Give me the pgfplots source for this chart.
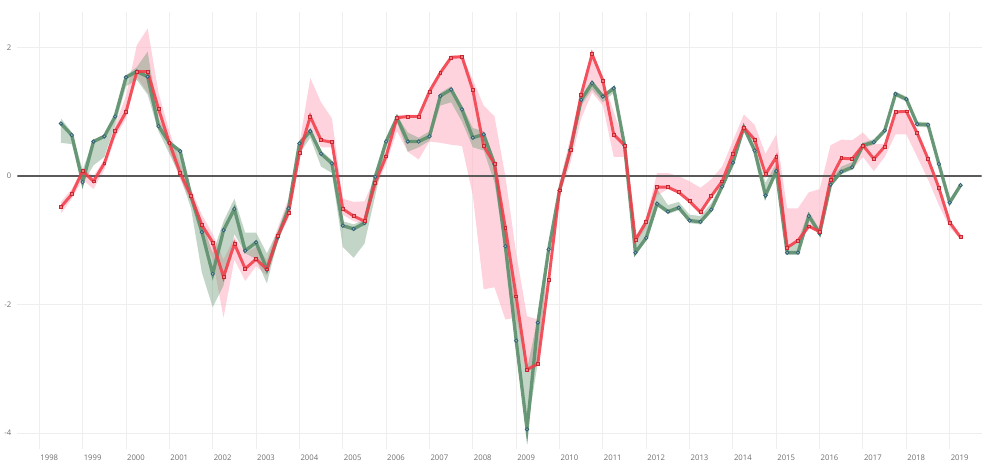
\documentclass[border=0pt]{standalone}
\usepackage{fontspec}
\setmainfont{Open Sans}
\usepackage{pgfplots}
\pgfplotsset{compat=1.18}
\usepackage{pgfplotstable}
\usepgfplotslibrary{fillbetween}
\definecolor{gline}{RGB}{92,143,108}
\definecolor{gband}{RGB}{110,155,120}
\definecolor{gmark}{RGB}{50,95,120}
\definecolor{rline}{RGB}{242,62,74}
\definecolor{rmark}{RGB}{200,40,50}
\definecolor{pband}{RGB}{255,182,198}
\definecolor{gridc}{RGB}{238,238,238}
\definecolor{zeroc}{RGB}{90,90,90}
\definecolor{labc}{RGB}{110,110,110}
\pgfplotstableread{
x g gl gu r rl ru
1998.50 0.82 0.52 0.90 -0.48 -0.58 -0.40
1998.75 0.64 0.50 0.68 -0.28 -0.35 -0.20
1999.00 -0.09 -0.12 0.10 0.08 -0.05 0.12
1999.25 0.54 0.17 0.57 -0.08 -0.20 0.00
1999.50 0.62 0.30 0.65 0.20 0.10 0.26
1999.75 0.93 0.80 0.96 0.70 0.60 0.80
2000.00 1.54 1.40 1.57 1.00 0.90 1.25
2000.25 1.63 1.50 1.70 1.63 1.55 2.04
2000.50 1.55 1.27 1.94 1.63 1.30 2.30
2000.75 0.78 0.70 0.90 1.05 0.90 1.30
2001.00 0.52 0.35 0.56 0.52 0.40 0.70
2001.25 0.39 0.00 0.42 0.05 -0.05 0.20
2001.50 -0.31 -0.50 -0.25 -0.31 -0.40 -0.20
2001.75 -0.87 -1.50 -0.70 -0.76 -0.90 -0.60
2002.00 -1.52 -2.04 -1.20 -1.03 -1.30 -0.90
2002.25 -0.84 -1.70 -0.70 -1.57 -2.20 -1.30
2002.50 -0.51 -0.90 -0.35 -1.05 -1.30 -0.95
2002.75 -1.16 -1.20 -0.88 -1.44 -1.63 -1.20
2003.00 -1.03 -1.29 -0.88 -1.29 -1.40 -1.10
2003.25 -1.45 -1.67 -1.20 -1.45 -1.55 -1.30
2003.50 -0.95 -1.00 -0.85 -0.93 -1.00 -0.80
2003.75 -0.50 -0.60 -0.40 -0.57 -0.65 -0.35
2004.00 0.51 0.35 0.55 0.36 0.30 0.50
2004.25 0.70 0.60 0.75 0.93 0.75 1.53
2004.50 0.35 0.15 0.40 0.56 0.45 1.15
2004.75 0.20 0.05 0.25 0.53 0.45 0.90
2005.00 -0.77 -1.10 -0.70 -0.51 -0.60 -0.35
2005.25 -0.82 -1.27 -0.75 -0.62 -0.70 -0.40
2005.50 -0.73 -1.05 -0.68 -0.70 -0.75 -0.39
2005.75 -0.01 -0.30 0.02 -0.10 -0.20 0.00
2006.00 0.54 0.45 0.58 0.31 0.20 0.40
2006.25 0.91 0.85 0.94 0.91 0.70 0.95
2006.50 0.54 0.38 0.68 0.93 0.38 0.96
2006.75 0.54 0.45 0.60 0.93 0.26 0.96
2007.00 0.62 0.55 0.70 1.32 0.54 1.35
2007.25 1.25 1.10 1.30 1.61 0.52 1.64
2007.50 1.35 1.15 1.40 1.85 0.49 1.88
2007.75 1.04 0.85 1.10 1.86 0.47 1.89
2008.00 0.60 0.45 0.75 1.34 -0.30 1.50
2008.25 0.65 0.40 0.70 0.47 -1.76 1.10
2008.50 0.19 -0.10 0.25 0.19 -1.73 0.93
2008.75 -1.09 -1.15 -0.80 -0.80 -2.23 0.00
2009.00 -2.56 -2.60 -1.90 -1.87 -2.20 -1.20
2009.25 -3.94 -3.95 -3.00 -3.01 -3.05 -2.18
2009.50 -2.28 -2.90 -2.20 -2.92 -2.95 -2.23
2009.75 -1.14 -1.20 -1.10 -1.62 -1.70 -1.50
2010.00 -0.22 -0.26 -0.18 -0.22 -0.30 -0.10
2010.25 0.41 0.37 0.45 0.41 0.20 0.60
2010.50 1.19 1.10 1.23 1.27 0.90 1.35
2010.75 1.45 1.35 1.50 1.90 1.30 1.95
2011.00 1.24 1.15 1.28 1.49 1.10 1.52
2011.25 1.37 1.30 1.40 0.65 0.30 1.00
2011.50 0.48 0.44 0.52 0.48 0.30 0.52
2011.75 -1.19 -1.22 -0.95 -0.99 -1.05 -0.95
2012.00 -0.96 -1.00 -0.72 -0.71 -0.80 -0.65
2012.25 -0.43 -0.47 -0.20 -0.17 -0.30 0.05
2012.50 -0.55 -0.59 -0.45 -0.17 -0.20 0.05
2012.75 -0.49 -0.53 -0.40 -0.25 -0.28 0.00
2013.00 -0.69 -0.73 -0.60 -0.39 -0.42 -0.08
2013.25 -0.71 -0.75 -0.62 -0.56 -0.58 -0.18
2013.50 -0.52 -0.56 -0.42 -0.31 -0.33 -0.05
2013.75 -0.16 -0.20 -0.10 -0.08 -0.10 0.15
2014.00 0.21 0.17 0.28 0.35 0.32 0.55
2014.25 0.76 0.72 0.80 0.76 0.74 0.96
2014.50 0.40 0.36 0.50 0.57 0.55 0.80
2014.75 -0.30 -0.34 -0.10 0.03 0.00 0.35
2015.00 0.08 0.04 0.20 0.30 0.05 0.65
2015.25 -1.19 -1.22 -1.10 -1.11 -1.12 -0.50
2015.50 -1.19 -1.22 -1.00 -1.00 -1.02 -0.50
2015.75 -0.62 -0.66 -0.55 -0.78 -0.80 -0.25
2016.00 -0.89 -0.93 -0.83 -0.86 -0.90 -0.20
2016.25 -0.13 -0.17 -0.05 -0.05 -0.12 0.48
2016.50 0.07 0.03 0.15 0.28 0.10 0.57
2016.75 0.14 0.10 0.22 0.27 0.10 0.56
2017.00 0.48 0.44 0.52 0.48 0.30 0.68
2017.25 0.53 0.49 0.58 0.27 0.08 0.50
2017.50 0.71 0.67 0.75 0.46 0.30 0.50
2017.75 1.28 1.24 1.32 1.00 0.65 1.02
2018.00 1.20 1.16 1.24 1.01 0.65 1.03
2018.25 0.81 0.77 0.85 0.67 0.30 0.70
2018.50 0.80 0.76 0.84 0.27 -0.05 0.30
2018.75 0.19 0.15 0.23 -0.18 -0.45 -0.15
2019.00 -0.41 -0.45 -0.37 -0.72 -0.80 -0.68
2019.25 -0.14 -0.18 -0.10 -0.95 -0.98 -0.93
}\data
\begin{document}
\begin{tikzpicture}
\begin{axis}[
  scale only axis,
  width=725pt, height=328.5pt,
  xmin=1997.494, xmax=2019.734,
  ymin=-4.244, ymax=2.557,
  axis line style={draw=none},
  major tick length=0pt,
  xtick={1998,...,2019},
  ytick={-4,-2,0,2},
  grid=major,
  grid style={color=gridc, line width=0.7pt},
  /pgf/number format/assume math mode=true,
  /pgf/number format/1000 sep={},
  tick label style={font=\fontsize{5.8}{7}\selectfont, color=labc},
  xticklabel style={xshift=7.5pt},
  xticklabel shift=1pt,
  yticklabel shift=1pt,
  clip=true,
]
% pink band (red series)
\addplot[draw=none, name path=ru, forget plot] table[x=x,y=ru]{\data};
\addplot[draw=none, name path=rl, forget plot] table[x=x,y=rl]{\data};
\addplot[fill=pband, fill opacity=0.6, draw=none] fill between[of=ru and rl];
% green band
\addplot[draw=none, name path=gu, forget plot] table[x=x,y=gu]{\data};
\addplot[draw=none, name path=gl, forget plot] table[x=x,y=gl]{\data};
\addplot[fill=gband, fill opacity=0.42, draw=none] fill between[of=gu and gl];
% zero line
\addplot[zeroc, line width=1.2pt] coordinates {(1997.494,0) (2019.734,0)};
% green series
\addplot[gline, line width=2.5pt, opacity=0.9, mark=*, mark size=1.3pt,
  mark options={draw=gmark, fill=gline!60!white, line width=0.6pt, opacity=1}]
  table[x=x,y=g]{\data};
% red series
\addplot[rline, line width=2.2pt, opacity=0.88, mark=square*, mark size=1.1pt,
  mark options={draw=rmark, fill=rline!70!white, line width=0.5pt, opacity=1}]
  table[x=x,y=r]{\data};
\end{axis}
\path (current axis.north) ++(0,9pt);
\end{tikzpicture}
\end{document}
